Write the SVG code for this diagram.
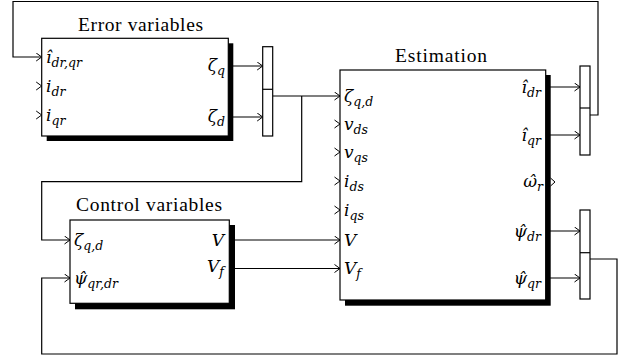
<svg xmlns="http://www.w3.org/2000/svg" width="620" height="362" viewBox="0 0 620 362">
<style>
.box{fill:#fff;stroke:#000;stroke-width:1.2}
.sh{fill:#000}
.mux{fill:#fff;stroke:#000;stroke-width:1.2}
.ln{fill:none;stroke:#000;stroke-width:1.2}
.chev{fill:none;stroke:#000;stroke-width:1}
.title{font-family:'Liberation Serif','Times New Roman',Times,serif;font-size:19.5px;fill:#000}
.m{font-family:'DejaVu Serif',serif;font-style:italic;font-size:17px;fill:#000}
.s{font-size:12.5px}
</style>
<defs>
<marker id="ar" markerWidth="8" markerHeight="10" refX="6" refY="4.5" orient="auto" markerUnits="userSpaceOnUse">
<path d="M0.5,0.5 L6,4.5 L0.5,8.5" fill="none" stroke="#000" stroke-width="1"/>
</marker>
</defs>
<rect width="620" height="362" fill="#fff"/>

<g id="connectors">
<polyline class="ln" points="590,115 598,115 598,1.5 13,1.5 13,57 41.7,57" marker-end="url(#ar)"/>
<line class="ln" x1="228" y1="66" x2="262.7" y2="66" marker-end="url(#ar)"/>
<line class="ln" x1="228" y1="117" x2="262.7" y2="117" marker-end="url(#ar)"/>
<line class="ln" x1="272.7" y1="96" x2="340" y2="96" marker-end="url(#ar)"/>
<polyline class="ln" points="301.7,96 301.7,181.7 41.7,181.7 41.7,240 70,240" marker-end="url(#ar)"/>
<line class="ln" x1="229" y1="240" x2="340" y2="240" marker-end="url(#ar)"/>
<line class="ln" x1="229" y1="268.5" x2="340" y2="268.5" marker-end="url(#ar)"/>
<line class="ln" x1="546" y1="87" x2="580" y2="87" marker-end="url(#ar)"/>
<line class="ln" x1="546" y1="135" x2="580" y2="135" marker-end="url(#ar)"/>
<line class="ln" x1="546" y1="231" x2="580" y2="231" marker-end="url(#ar)"/>
<line class="ln" x1="546" y1="278" x2="580" y2="278" marker-end="url(#ar)"/>
<polyline class="ln" points="590,259 617,259 617,354 41.7,354 41.7,278 70,278" marker-end="url(#ar)"/>
</g>

<g id="error-variables">
<rect class="sh" x="46.7" y="43.3" width="186.6" height="97.7"/>
<rect class="box" x="41.7" y="38.3" width="186.6" height="97.7"/>
<text class="title" x="78" y="31" textLength="125" lengthAdjust="spacing">Error variables</text>
<path class="chev" d="M36.2,82 L41.7,86 L36.2,90"/>
<path class="chev" d="M36.2,111 L41.7,115 L36.2,119"/>
<text class="m" x="46" y="63">î<tspan class="s" dy="4">dr,qr</tspan></text>
<text class="m" x="46" y="92">i<tspan class="s" dy="4">dr</tspan></text>
<text class="m" x="46" y="121">i<tspan class="s" dy="4">qr</tspan></text>
<text class="m" x="225" y="71" text-anchor="end">ζ<tspan class="s" dy="4">q</tspan></text>
<text class="m" x="225" y="122" text-anchor="end">ζ<tspan class="s" dy="4">d</tspan></text>
</g>

<g id="mux-1">
<rect class="mux" x="262.7" y="46.7" width="10" height="89.3"/>
<line class="ln" x1="262.7" y1="89.3" x2="272.7" y2="89.3"/>
</g>

<g id="control-variables">
<rect class="sh" x="75" y="225" width="160" height="84.3"/>
<rect class="box" x="70" y="220" width="159.3" height="83.3"/>
<text class="title" x="76" y="210.5" textLength="146" lengthAdjust="spacing">Control variables</text>
<text class="m" x="74" y="246">ζ<tspan class="s" dy="4">q,d</tspan></text>
<text class="m" x="74" y="284">ψ̂<tspan class="s" dy="4">qr,dr</tspan></text>
<text class="m" x="224" y="246" text-anchor="end">V</text>
<text class="m" x="224" y="272" text-anchor="end">V<tspan class="s" dy="4">f</tspan></text>
</g>

<g id="estimation">
<rect class="sh" x="345" y="75" width="205.7" height="230.7"/>
<rect class="box" x="340" y="70" width="205.7" height="230"/>
<text class="title" x="395" y="62" textLength="92" lengthAdjust="spacing">Estimation</text>
<path class="chev" d="M334.5,120 L340,124 L334.5,128"/>
<path class="chev" d="M334.5,148 L340,152 L334.5,156"/>
<path class="chev" d="M334.5,177 L340,181 L334.5,185"/>
<path class="chev" d="M334.5,206 L340,210 L334.5,214"/>
<text class="m" x="344" y="102">ζ<tspan class="s" dy="4">q,d</tspan></text>
<text class="m" x="344" y="130">v<tspan class="s" dy="4">ds</tspan></text>
<text class="m" x="344" y="158">v<tspan class="s" dy="4">qs</tspan></text>
<text class="m" x="344" y="187">i<tspan class="s" dy="4">ds</tspan></text>
<text class="m" x="344" y="216">i<tspan class="s" dy="4">qs</tspan></text>
<text class="m" x="344" y="246">V</text>
<text class="m" x="344" y="274">V<tspan class="s" dy="4">f</tspan></text>
<text class="m" x="541" y="93" text-anchor="end">î<tspan class="s" dy="4">dr</tspan></text>
<text class="m" x="541" y="141" text-anchor="end">î<tspan class="s" dy="4">qr</tspan></text>
<text class="m" x="543" y="187" text-anchor="end">ω̂<tspan class="s" dy="4">r</tspan></text>
<text class="m" x="541" y="237" text-anchor="end">ψ̂<tspan class="s" dy="4">dr</tspan></text>
<text class="m" x="541" y="284" text-anchor="end">ψ̂<tspan class="s" dy="4">qr</tspan></text>
<path class="chev" d="M550.5,178 L555,182 L550.5,186" stroke="#555"/>
</g>

<g id="mux-2">
<rect class="mux" x="580" y="66" width="10" height="89"/>
<line class="ln" x1="580" y1="108" x2="590" y2="108"/>
</g>

<g id="mux-3">
<rect class="mux" x="580" y="210" width="10" height="89"/>
<line class="ln" x1="580" y1="252.7" x2="590" y2="252.7"/>
</g>
</svg>
